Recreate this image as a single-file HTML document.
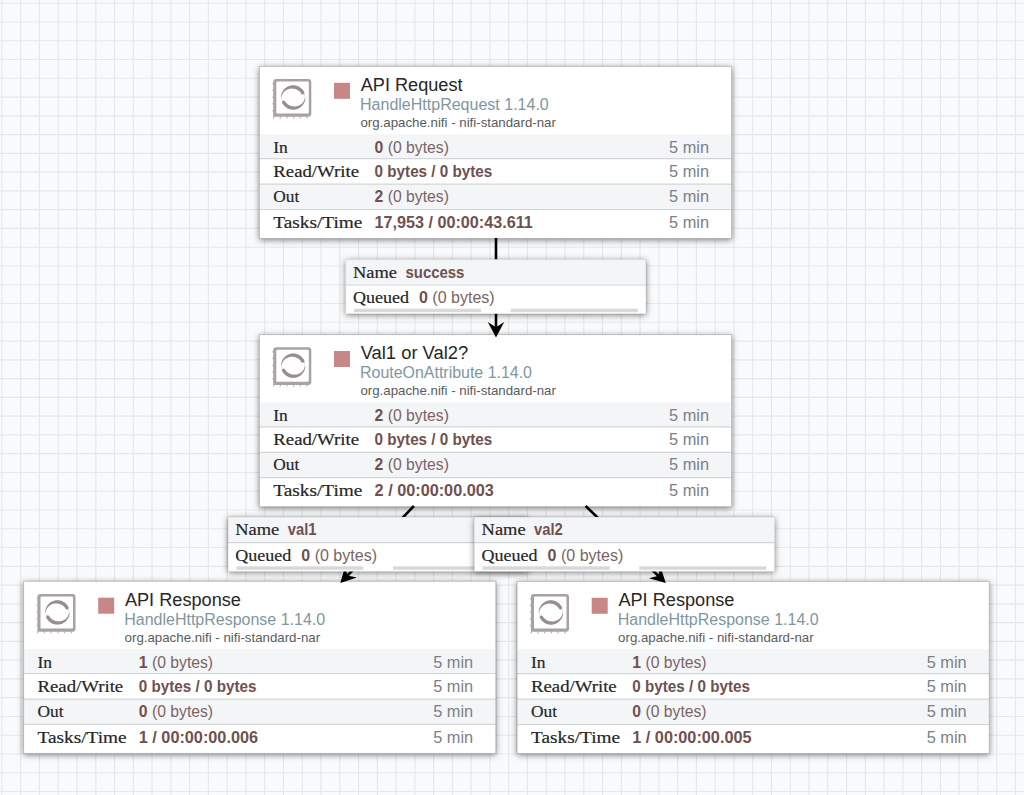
<!DOCTYPE html><html><head><meta charset="utf-8"><style>html,body{margin:0;padding:0;background:#f9fafb;}
body{width:1024px;height:795px;overflow:hidden;}
svg{display:block;}
text{font-family:"Liberation Sans",sans-serif;white-space:pre;}
.tt{font-size:18px;fill:#262626;}
.ty{font-size:15.8px;fill:#8097a1;}
.bu{font-size:13.3px;fill:#5a5a5a;}
.lb{font-family:"Liberation Serif",serif;font-size:17.7px;fill:#262626;stroke:#262626;stroke-width:0.2px;}
.vl{font-size:16px;font-weight:700;fill:#6e5150;}
.vl .nb{font-weight:400;fill:#7a6464;}
.mn{font-size:15.6px;fill:#7a8187;}
</style></head><body><svg width="1024" height="795" viewBox="0 0 1024 795">
<defs><filter id="sh" x="-5%" y="-12%" width="110%" height="124%"><feDropShadow dx="0" dy="1.5" stdDeviation="3.0" flood-color="#000" flood-opacity="0.5"/></filter><filter id="sh2" x="-6%" y="-30%" width="112%" height="160%"><feDropShadow dx="0" dy="1.2" stdDeviation="3.0" flood-color="#000" flood-opacity="0.5"/></filter></defs>
<rect width="1024" height="795" fill="#f9fafb"/>
<path d="M1.9 0V795M20.67 0V795M39.44 0V795M58.21 0V795M76.98 0V795M95.75 0V795M114.52 0V795M133.29 0V795M152.06 0V795M170.83 0V795M189.6 0V795M208.37 0V795M227.14 0V795M245.91 0V795M264.68 0V795M283.45 0V795M302.22 0V795M320.99 0V795M339.76 0V795M358.53 0V795M377.3 0V795M396.07 0V795M414.84 0V795M433.61 0V795M452.38 0V795M471.15 0V795M489.92 0V795M508.69 0V795M527.46 0V795M546.23 0V795M565 0V795M583.77 0V795M602.54 0V795M621.31 0V795M640.08 0V795M658.85 0V795M677.62 0V795M696.39 0V795M715.16 0V795M733.93 0V795M752.7 0V795M771.47 0V795M790.24 0V795M809.01 0V795M827.78 0V795M846.55 0V795M865.32 0V795M884.09 0V795M902.86 0V795M921.63 0V795M940.4 0V795M959.17 0V795M977.94 0V795M996.71 0V795M1015.48 0V795M0 3.2H1024M0 21.97H1024M0 40.74H1024M0 59.51H1024M0 78.28H1024M0 97.05H1024M0 115.82H1024M0 134.59H1024M0 153.36H1024M0 172.13H1024M0 190.9H1024M0 209.67H1024M0 228.44H1024M0 247.21H1024M0 265.98H1024M0 284.75H1024M0 303.52H1024M0 322.29H1024M0 341.06H1024M0 359.83H1024M0 378.6H1024M0 397.37H1024M0 416.14H1024M0 434.91H1024M0 453.68H1024M0 472.45H1024M0 491.22H1024M0 509.99H1024M0 528.76H1024M0 547.53H1024M0 566.3H1024M0 585.07H1024M0 603.84H1024M0 622.61H1024M0 641.38H1024M0 660.15H1024M0 678.92H1024M0 697.69H1024M0 716.46H1024M0 735.23H1024M0 754H1024M0 772.77H1024M0 791.54H1024" stroke="#e5e7ea" stroke-width="1.15" fill="none"/>
<g transform="translate(259.4 66.4)"><rect x="0" y="0" width="472.2" height="172.1" fill="#fff" filter="url(#sh)"/><rect x="0" y="67.9" width="472.2" height="24.3" fill="#f4f5f7"/><rect x="0" y="117.8" width="472.2" height="25.3" fill="#f4f5f7"/><path d="M0 92.2H472.2M0 117.8H472.2M0 143.1H472.2" stroke="#d2d6d8" stroke-width="1.2"/><rect x="0" y="0" width="472.2" height="172.1" fill="none" stroke="rgba(0,0,0,0.22)" stroke-width="1"/><path d="M14.1 17.2h-1.3M14.1 23.9h-1.3M14.1 30.7h-1.3M14.1 37.5h-1.3M14.1 44.2h-1.3M14.5 50.1l-0.6 2.0M21.2 50.1l-0.6 2.0M27.9 50.1l-0.6 2.0M34.6 50.1l-0.6 2.0M41.3 50.1l-0.6 2.0M48 50.1l-0.6 2.0" stroke="#c0b8b8" stroke-width="1.2" fill="none"/><path d="M13.8 50.4V15.7A3.0 3.0 0 0 1 16.8 12.7H48.9A3.0 3.0 0 0 1 51.9 15.7V47.4A3.0 3.0 0 0 1 48.9 50.4ZM16.9 47.2H48.4A1.0 1.0 0 0 0 49.4 46.2V16.2A1.0 1.0 0 0 0 48.4 15.2H17.9A1.0 1.0 0 0 0 16.9 16.2Z" fill="#aaa2a2" fill-rule="evenodd"/><circle cx="33.8" cy="31.1" r="11.75" fill="none" stroke="#e4e0e0" stroke-width="0.9"/><path d="M44.86 25.94L44.49 25.22L44.07 24.52L43.61 23.85L43.1 23.21L42.56 22.61L41.97 22.04L41.35 21.52L40.69 21.03L40.01 20.6L39.29 20.21L38.55 19.86L37.79 19.57L37.01 19.33L36.22 19.14L35.42 19.01L34.61 18.93L33.79 18.9L32.98 18.93L32.17 19.01L31.37 19.14L30.58 19.33L29.8 19.58L29.04 19.87L28.3 20.21L27.59 20.6L26.9 21.04L26.24 21.52L25.62 22.05L25.04 22.61L24.49 23.22L23.98 23.86L23.52 24.53L23.11 25.23L22.74 25.95L22.42 26.7L22.15 27.47L21.94 28.26L21.77 29.05L21.66 29.86L21.61 30.67L22.01 30.69L22.2 29.92L22.44 29.17L22.72 28.45L23.06 27.75L23.43 27.09L23.84 26.47L24.3 25.88L24.79 25.34L25.32 24.84L25.87 24.39L26.45 23.98L27.04 23.62L27.65 23.3L28.27 23.03L28.87 22.78L29.49 22.57L30.12 22.41L30.74 22.29L31.37 22.22L31.99 22.19L32.6 22.2L33.2 22.23L33.8 22.24L34.38 22.29L34.97 22.39L35.54 22.52L36.1 22.68L36.64 22.89L37.17 23.12L37.68 23.4L38.18 23.69L38.69 23.96L39.18 24.27L39.65 24.61L40.1 24.99L40.53 25.39L40.93 25.83L41.3 26.29L41.65 26.78L41.96 27.3Z" fill="#978e8e"/><circle cx="43.41" cy="26.62" r="1.6" fill="#978e8e"/><path d="M22.74 36.26L23.11 36.98L23.53 37.68L23.99 38.35L24.5 38.99L25.04 39.59L25.63 40.16L26.25 40.68L26.91 41.17L27.59 41.6L28.31 41.99L29.05 42.34L29.81 42.63L30.59 42.87L31.38 43.06L32.18 43.19L32.99 43.27L33.81 43.3L34.62 43.27L35.43 43.19L36.23 43.06L37.02 42.87L37.8 42.62L38.56 42.33L39.3 41.99L40.01 41.6L40.7 41.16L41.36 40.68L41.98 40.15L42.56 39.59L43.11 38.98L43.62 38.34L44.08 37.67L44.49 36.97L44.86 36.25L45.18 35.5L45.45 34.73L45.66 33.94L45.83 33.15L45.94 32.34L45.99 31.53L45.59 31.51L45.4 32.28L45.16 33.03L44.88 33.75L44.54 34.45L44.17 35.11L43.76 35.73L43.3 36.32L42.81 36.86L42.28 37.36L41.73 37.81L41.15 38.22L40.56 38.58L39.95 38.9L39.33 39.17L38.73 39.42L38.11 39.63L37.48 39.79L36.86 39.91L36.23 39.98L35.61 40.01L35 40L34.4 39.97L33.8 39.96L33.22 39.91L32.63 39.81L32.06 39.68L31.5 39.52L30.96 39.31L30.43 39.08L29.92 38.8L29.42 38.51L28.91 38.24L28.42 37.93L27.95 37.59L27.5 37.21L27.07 36.81L26.67 36.37L26.3 35.91L25.95 35.42L25.64 34.9Z" fill="#978e8e"/><circle cx="24.19" cy="35.58" r="1.6" fill="#978e8e"/><rect x="74.6" y="16.4" width="16" height="16" fill="#c88787"/><text x="101.3" y="24.4" class="tt" textLength="101.8" lengthAdjust="spacingAndGlyphs">API Request</text><text x="100.6" y="43.8" class="ty" textLength="188.8" lengthAdjust="spacingAndGlyphs">HandleHttpRequest 1.14.0</text><text x="101" y="60.7" class="bu" textLength="195.5" lengthAdjust="spacingAndGlyphs">org.apache.nifi - nifi-standard-nar</text><text x="13.9" y="86.4" class="lb" textLength="14.5" lengthAdjust="spacingAndGlyphs">In</text><text x="115.2" y="86.4" class="vl" textLength="74.3" lengthAdjust="spacingAndGlyphs">0<tspan class="nb"> (0 bytes)</tspan></text><text x="449.6" y="86.4" class="mn" textLength="40" lengthAdjust="spacingAndGlyphs" text-anchor="end">5 min</text><text x="13.9" y="110.3" class="lb" textLength="85.7" lengthAdjust="spacingAndGlyphs">Read/Write</text><text x="115.2" y="110.3" class="vl" textLength="117.7" lengthAdjust="spacingAndGlyphs">0 bytes / 0 bytes</text><text x="449.6" y="110.3" class="mn" textLength="40" lengthAdjust="spacingAndGlyphs" text-anchor="end">5 min</text><text x="13.9" y="135.9" class="lb" textLength="26" lengthAdjust="spacingAndGlyphs">Out</text><text x="115.2" y="135.9" class="vl" textLength="74.3" lengthAdjust="spacingAndGlyphs">2<tspan class="nb"> (0 bytes)</tspan></text><text x="449.6" y="135.9" class="mn" textLength="40" lengthAdjust="spacingAndGlyphs" text-anchor="end">5 min</text><text x="13.9" y="161.3" class="lb" textLength="89.1" lengthAdjust="spacingAndGlyphs">Tasks/Time</text><text x="115.2" y="161.3" class="vl" textLength="158.2" lengthAdjust="spacingAndGlyphs">17,953 / 00:00:43.611</text><text x="449.6" y="161.3" class="mn" textLength="40" lengthAdjust="spacingAndGlyphs" text-anchor="end">5 min</text></g>
<g transform="translate(259.4 334.6)"><rect x="0" y="0" width="472.2" height="172.1" fill="#fff" filter="url(#sh)"/><rect x="0" y="67.9" width="472.2" height="24.3" fill="#f4f5f7"/><rect x="0" y="117.8" width="472.2" height="25.3" fill="#f4f5f7"/><path d="M0 92.2H472.2M0 117.8H472.2M0 143.1H472.2" stroke="#d2d6d8" stroke-width="1.2"/><rect x="0" y="0" width="472.2" height="172.1" fill="none" stroke="rgba(0,0,0,0.22)" stroke-width="1"/><path d="M14.1 17.2h-1.3M14.1 23.9h-1.3M14.1 30.7h-1.3M14.1 37.5h-1.3M14.1 44.2h-1.3M14.5 50.1l-0.6 2.0M21.2 50.1l-0.6 2.0M27.9 50.1l-0.6 2.0M34.6 50.1l-0.6 2.0M41.3 50.1l-0.6 2.0M48 50.1l-0.6 2.0" stroke="#c0b8b8" stroke-width="1.2" fill="none"/><path d="M13.8 50.4V15.7A3.0 3.0 0 0 1 16.8 12.7H48.9A3.0 3.0 0 0 1 51.9 15.7V47.4A3.0 3.0 0 0 1 48.9 50.4ZM16.9 47.2H48.4A1.0 1.0 0 0 0 49.4 46.2V16.2A1.0 1.0 0 0 0 48.4 15.2H17.9A1.0 1.0 0 0 0 16.9 16.2Z" fill="#aaa2a2" fill-rule="evenodd"/><circle cx="33.8" cy="31.1" r="11.75" fill="none" stroke="#e4e0e0" stroke-width="0.9"/><path d="M44.86 25.94L44.49 25.22L44.07 24.52L43.61 23.85L43.1 23.21L42.56 22.61L41.97 22.04L41.35 21.52L40.69 21.03L40.01 20.6L39.29 20.21L38.55 19.86L37.79 19.57L37.01 19.33L36.22 19.14L35.42 19.01L34.61 18.93L33.79 18.9L32.98 18.93L32.17 19.01L31.37 19.14L30.58 19.33L29.8 19.58L29.04 19.87L28.3 20.21L27.59 20.6L26.9 21.04L26.24 21.52L25.62 22.05L25.04 22.61L24.49 23.22L23.98 23.86L23.52 24.53L23.11 25.23L22.74 25.95L22.42 26.7L22.15 27.47L21.94 28.26L21.77 29.05L21.66 29.86L21.61 30.67L22.01 30.69L22.2 29.92L22.44 29.17L22.72 28.45L23.06 27.75L23.43 27.09L23.84 26.47L24.3 25.88L24.79 25.34L25.32 24.84L25.87 24.39L26.45 23.98L27.04 23.62L27.65 23.3L28.27 23.03L28.87 22.78L29.49 22.57L30.12 22.41L30.74 22.29L31.37 22.22L31.99 22.19L32.6 22.2L33.2 22.23L33.8 22.24L34.38 22.29L34.97 22.39L35.54 22.52L36.1 22.68L36.64 22.89L37.17 23.12L37.68 23.4L38.18 23.69L38.69 23.96L39.18 24.27L39.65 24.61L40.1 24.99L40.53 25.39L40.93 25.83L41.3 26.29L41.65 26.78L41.96 27.3Z" fill="#978e8e"/><circle cx="43.41" cy="26.62" r="1.6" fill="#978e8e"/><path d="M22.74 36.26L23.11 36.98L23.53 37.68L23.99 38.35L24.5 38.99L25.04 39.59L25.63 40.16L26.25 40.68L26.91 41.17L27.59 41.6L28.31 41.99L29.05 42.34L29.81 42.63L30.59 42.87L31.38 43.06L32.18 43.19L32.99 43.27L33.81 43.3L34.62 43.27L35.43 43.19L36.23 43.06L37.02 42.87L37.8 42.62L38.56 42.33L39.3 41.99L40.01 41.6L40.7 41.16L41.36 40.68L41.98 40.15L42.56 39.59L43.11 38.98L43.62 38.34L44.08 37.67L44.49 36.97L44.86 36.25L45.18 35.5L45.45 34.73L45.66 33.94L45.83 33.15L45.94 32.34L45.99 31.53L45.59 31.51L45.4 32.28L45.16 33.03L44.88 33.75L44.54 34.45L44.17 35.11L43.76 35.73L43.3 36.32L42.81 36.86L42.28 37.36L41.73 37.81L41.15 38.22L40.56 38.58L39.95 38.9L39.33 39.17L38.73 39.42L38.11 39.63L37.48 39.79L36.86 39.91L36.23 39.98L35.61 40.01L35 40L34.4 39.97L33.8 39.96L33.22 39.91L32.63 39.81L32.06 39.68L31.5 39.52L30.96 39.31L30.43 39.08L29.92 38.8L29.42 38.51L28.91 38.24L28.42 37.93L27.95 37.59L27.5 37.21L27.07 36.81L26.67 36.37L26.3 35.91L25.95 35.42L25.64 34.9Z" fill="#978e8e"/><circle cx="24.19" cy="35.58" r="1.6" fill="#978e8e"/><rect x="74.6" y="16.4" width="16" height="16" fill="#c88787"/><text x="101.3" y="24.4" class="tt" textLength="107.5" lengthAdjust="spacingAndGlyphs">Val1 or Val2?</text><text x="100.6" y="43.8" class="ty" textLength="172" lengthAdjust="spacingAndGlyphs">RouteOnAttribute 1.14.0</text><text x="101" y="60.7" class="bu" textLength="195.5" lengthAdjust="spacingAndGlyphs">org.apache.nifi - nifi-standard-nar</text><text x="13.9" y="86.4" class="lb" textLength="14.5" lengthAdjust="spacingAndGlyphs">In</text><text x="115.2" y="86.4" class="vl" textLength="74.3" lengthAdjust="spacingAndGlyphs">2<tspan class="nb"> (0 bytes)</tspan></text><text x="449.6" y="86.4" class="mn" textLength="40" lengthAdjust="spacingAndGlyphs" text-anchor="end">5 min</text><text x="13.9" y="110.3" class="lb" textLength="85.7" lengthAdjust="spacingAndGlyphs">Read/Write</text><text x="115.2" y="110.3" class="vl" textLength="117.7" lengthAdjust="spacingAndGlyphs">0 bytes / 0 bytes</text><text x="449.6" y="110.3" class="mn" textLength="40" lengthAdjust="spacingAndGlyphs" text-anchor="end">5 min</text><text x="13.9" y="135.9" class="lb" textLength="26" lengthAdjust="spacingAndGlyphs">Out</text><text x="115.2" y="135.9" class="vl" textLength="74.3" lengthAdjust="spacingAndGlyphs">2<tspan class="nb"> (0 bytes)</tspan></text><text x="449.6" y="135.9" class="mn" textLength="40" lengthAdjust="spacingAndGlyphs" text-anchor="end">5 min</text><text x="13.9" y="161.3" class="lb" textLength="89.1" lengthAdjust="spacingAndGlyphs">Tasks/Time</text><text x="115.2" y="161.3" class="vl" textLength="119.2" lengthAdjust="spacingAndGlyphs">2 / 00:00:00.003</text><text x="449.6" y="161.3" class="mn" textLength="40" lengthAdjust="spacingAndGlyphs" text-anchor="end">5 min</text></g>
<g transform="translate(23.6 581.3)"><rect x="0" y="0" width="472.2" height="172.1" fill="#fff" filter="url(#sh)"/><rect x="0" y="67.9" width="472.2" height="24.3" fill="#f4f5f7"/><rect x="0" y="117.8" width="472.2" height="25.3" fill="#f4f5f7"/><path d="M0 92.2H472.2M0 117.8H472.2M0 143.1H472.2" stroke="#d2d6d8" stroke-width="1.2"/><rect x="0" y="0" width="472.2" height="172.1" fill="none" stroke="rgba(0,0,0,0.22)" stroke-width="1"/><path d="M14.1 17.2h-1.3M14.1 23.9h-1.3M14.1 30.7h-1.3M14.1 37.5h-1.3M14.1 44.2h-1.3M14.5 50.1l-0.6 2.0M21.2 50.1l-0.6 2.0M27.9 50.1l-0.6 2.0M34.6 50.1l-0.6 2.0M41.3 50.1l-0.6 2.0M48 50.1l-0.6 2.0" stroke="#c0b8b8" stroke-width="1.2" fill="none"/><path d="M13.8 50.4V15.7A3.0 3.0 0 0 1 16.8 12.7H48.9A3.0 3.0 0 0 1 51.9 15.7V47.4A3.0 3.0 0 0 1 48.9 50.4ZM16.9 47.2H48.4A1.0 1.0 0 0 0 49.4 46.2V16.2A1.0 1.0 0 0 0 48.4 15.2H17.9A1.0 1.0 0 0 0 16.9 16.2Z" fill="#aaa2a2" fill-rule="evenodd"/><circle cx="33.8" cy="31.1" r="11.75" fill="none" stroke="#e4e0e0" stroke-width="0.9"/><path d="M44.86 25.94L44.49 25.22L44.07 24.52L43.61 23.85L43.1 23.21L42.56 22.61L41.97 22.04L41.35 21.52L40.69 21.03L40.01 20.6L39.29 20.21L38.55 19.86L37.79 19.57L37.01 19.33L36.22 19.14L35.42 19.01L34.61 18.93L33.79 18.9L32.98 18.93L32.17 19.01L31.37 19.14L30.58 19.33L29.8 19.58L29.04 19.87L28.3 20.21L27.59 20.6L26.9 21.04L26.24 21.52L25.62 22.05L25.04 22.61L24.49 23.22L23.98 23.86L23.52 24.53L23.11 25.23L22.74 25.95L22.42 26.7L22.15 27.47L21.94 28.26L21.77 29.05L21.66 29.86L21.61 30.67L22.01 30.69L22.2 29.92L22.44 29.17L22.72 28.45L23.06 27.75L23.43 27.09L23.84 26.47L24.3 25.88L24.79 25.34L25.32 24.84L25.87 24.39L26.45 23.98L27.04 23.62L27.65 23.3L28.27 23.03L28.87 22.78L29.49 22.57L30.12 22.41L30.74 22.29L31.37 22.22L31.99 22.19L32.6 22.2L33.2 22.23L33.8 22.24L34.38 22.29L34.97 22.39L35.54 22.52L36.1 22.68L36.64 22.89L37.17 23.12L37.68 23.4L38.18 23.69L38.69 23.96L39.18 24.27L39.65 24.61L40.1 24.99L40.53 25.39L40.93 25.83L41.3 26.29L41.65 26.78L41.96 27.3Z" fill="#978e8e"/><circle cx="43.41" cy="26.62" r="1.6" fill="#978e8e"/><path d="M22.74 36.26L23.11 36.98L23.53 37.68L23.99 38.35L24.5 38.99L25.04 39.59L25.63 40.16L26.25 40.68L26.91 41.17L27.59 41.6L28.31 41.99L29.05 42.34L29.81 42.63L30.59 42.87L31.38 43.06L32.18 43.19L32.99 43.27L33.81 43.3L34.62 43.27L35.43 43.19L36.23 43.06L37.02 42.87L37.8 42.62L38.56 42.33L39.3 41.99L40.01 41.6L40.7 41.16L41.36 40.68L41.98 40.15L42.56 39.59L43.11 38.98L43.62 38.34L44.08 37.67L44.49 36.97L44.86 36.25L45.18 35.5L45.45 34.73L45.66 33.94L45.83 33.15L45.94 32.34L45.99 31.53L45.59 31.51L45.4 32.28L45.16 33.03L44.88 33.75L44.54 34.45L44.17 35.11L43.76 35.73L43.3 36.32L42.81 36.86L42.28 37.36L41.73 37.81L41.15 38.22L40.56 38.58L39.95 38.9L39.33 39.17L38.73 39.42L38.11 39.63L37.48 39.79L36.86 39.91L36.23 39.98L35.61 40.01L35 40L34.4 39.97L33.8 39.96L33.22 39.91L32.63 39.81L32.06 39.68L31.5 39.52L30.96 39.31L30.43 39.08L29.92 38.8L29.42 38.51L28.91 38.24L28.42 37.93L27.95 37.59L27.5 37.21L27.07 36.81L26.67 36.37L26.3 35.91L25.95 35.42L25.64 34.9Z" fill="#978e8e"/><circle cx="24.19" cy="35.58" r="1.6" fill="#978e8e"/><rect x="74.6" y="16.4" width="16" height="16" fill="#c88787"/><text x="101.3" y="24.4" class="tt" textLength="116" lengthAdjust="spacingAndGlyphs">API Response</text><text x="100.6" y="43.8" class="ty" textLength="201" lengthAdjust="spacingAndGlyphs">HandleHttpResponse 1.14.0</text><text x="101" y="60.7" class="bu" textLength="195.5" lengthAdjust="spacingAndGlyphs">org.apache.nifi - nifi-standard-nar</text><text x="13.9" y="86.4" class="lb" textLength="14.5" lengthAdjust="spacingAndGlyphs">In</text><text x="115.2" y="86.4" class="vl" textLength="74.3" lengthAdjust="spacingAndGlyphs">1<tspan class="nb"> (0 bytes)</tspan></text><text x="449.6" y="86.4" class="mn" textLength="40" lengthAdjust="spacingAndGlyphs" text-anchor="end">5 min</text><text x="13.9" y="110.3" class="lb" textLength="85.7" lengthAdjust="spacingAndGlyphs">Read/Write</text><text x="115.2" y="110.3" class="vl" textLength="117.7" lengthAdjust="spacingAndGlyphs">0 bytes / 0 bytes</text><text x="449.6" y="110.3" class="mn" textLength="40" lengthAdjust="spacingAndGlyphs" text-anchor="end">5 min</text><text x="13.9" y="135.9" class="lb" textLength="26" lengthAdjust="spacingAndGlyphs">Out</text><text x="115.2" y="135.9" class="vl" textLength="74.3" lengthAdjust="spacingAndGlyphs">0<tspan class="nb"> (0 bytes)</tspan></text><text x="449.6" y="135.9" class="mn" textLength="40" lengthAdjust="spacingAndGlyphs" text-anchor="end">5 min</text><text x="13.9" y="161.3" class="lb" textLength="89.1" lengthAdjust="spacingAndGlyphs">Tasks/Time</text><text x="115.2" y="161.3" class="vl" textLength="119.2" lengthAdjust="spacingAndGlyphs">1 / 00:00:00.006</text><text x="449.6" y="161.3" class="mn" textLength="40" lengthAdjust="spacingAndGlyphs" text-anchor="end">5 min</text></g>
<g transform="translate(517.1 581.4)"><rect x="0" y="0" width="472.2" height="172.1" fill="#fff" filter="url(#sh)"/><rect x="0" y="67.9" width="472.2" height="24.3" fill="#f4f5f7"/><rect x="0" y="117.8" width="472.2" height="25.3" fill="#f4f5f7"/><path d="M0 92.2H472.2M0 117.8H472.2M0 143.1H472.2" stroke="#d2d6d8" stroke-width="1.2"/><rect x="0" y="0" width="472.2" height="172.1" fill="none" stroke="rgba(0,0,0,0.22)" stroke-width="1"/><path d="M14.1 17.2h-1.3M14.1 23.9h-1.3M14.1 30.7h-1.3M14.1 37.5h-1.3M14.1 44.2h-1.3M14.5 50.1l-0.6 2.0M21.2 50.1l-0.6 2.0M27.9 50.1l-0.6 2.0M34.6 50.1l-0.6 2.0M41.3 50.1l-0.6 2.0M48 50.1l-0.6 2.0" stroke="#c0b8b8" stroke-width="1.2" fill="none"/><path d="M13.8 50.4V15.7A3.0 3.0 0 0 1 16.8 12.7H48.9A3.0 3.0 0 0 1 51.9 15.7V47.4A3.0 3.0 0 0 1 48.9 50.4ZM16.9 47.2H48.4A1.0 1.0 0 0 0 49.4 46.2V16.2A1.0 1.0 0 0 0 48.4 15.2H17.9A1.0 1.0 0 0 0 16.9 16.2Z" fill="#aaa2a2" fill-rule="evenodd"/><circle cx="33.8" cy="31.1" r="11.75" fill="none" stroke="#e4e0e0" stroke-width="0.9"/><path d="M44.86 25.94L44.49 25.22L44.07 24.52L43.61 23.85L43.1 23.21L42.56 22.61L41.97 22.04L41.35 21.52L40.69 21.03L40.01 20.6L39.29 20.21L38.55 19.86L37.79 19.57L37.01 19.33L36.22 19.14L35.42 19.01L34.61 18.93L33.79 18.9L32.98 18.93L32.17 19.01L31.37 19.14L30.58 19.33L29.8 19.58L29.04 19.87L28.3 20.21L27.59 20.6L26.9 21.04L26.24 21.52L25.62 22.05L25.04 22.61L24.49 23.22L23.98 23.86L23.52 24.53L23.11 25.23L22.74 25.95L22.42 26.7L22.15 27.47L21.94 28.26L21.77 29.05L21.66 29.86L21.61 30.67L22.01 30.69L22.2 29.92L22.44 29.17L22.72 28.45L23.06 27.75L23.43 27.09L23.84 26.47L24.3 25.88L24.79 25.34L25.32 24.84L25.87 24.39L26.45 23.98L27.04 23.62L27.65 23.3L28.27 23.03L28.87 22.78L29.49 22.57L30.12 22.41L30.74 22.29L31.37 22.22L31.99 22.19L32.6 22.2L33.2 22.23L33.8 22.24L34.38 22.29L34.97 22.39L35.54 22.52L36.1 22.68L36.64 22.89L37.17 23.12L37.68 23.4L38.18 23.69L38.69 23.96L39.18 24.27L39.65 24.61L40.1 24.99L40.53 25.39L40.93 25.83L41.3 26.29L41.65 26.78L41.96 27.3Z" fill="#978e8e"/><circle cx="43.41" cy="26.62" r="1.6" fill="#978e8e"/><path d="M22.74 36.26L23.11 36.98L23.53 37.68L23.99 38.35L24.5 38.99L25.04 39.59L25.63 40.16L26.25 40.68L26.91 41.17L27.59 41.6L28.31 41.99L29.05 42.34L29.81 42.63L30.59 42.87L31.38 43.06L32.18 43.19L32.99 43.27L33.81 43.3L34.62 43.27L35.43 43.19L36.23 43.06L37.02 42.87L37.8 42.62L38.56 42.33L39.3 41.99L40.01 41.6L40.7 41.16L41.36 40.68L41.98 40.15L42.56 39.59L43.11 38.98L43.62 38.34L44.08 37.67L44.49 36.97L44.86 36.25L45.18 35.5L45.45 34.73L45.66 33.94L45.83 33.15L45.94 32.34L45.99 31.53L45.59 31.51L45.4 32.28L45.16 33.03L44.88 33.75L44.54 34.45L44.17 35.11L43.76 35.73L43.3 36.32L42.81 36.86L42.28 37.36L41.73 37.81L41.15 38.22L40.56 38.58L39.95 38.9L39.33 39.17L38.73 39.42L38.11 39.63L37.48 39.79L36.86 39.91L36.23 39.98L35.61 40.01L35 40L34.4 39.97L33.8 39.96L33.22 39.91L32.63 39.81L32.06 39.68L31.5 39.52L30.96 39.31L30.43 39.08L29.92 38.8L29.42 38.51L28.91 38.24L28.42 37.93L27.95 37.59L27.5 37.21L27.07 36.81L26.67 36.37L26.3 35.91L25.95 35.42L25.64 34.9Z" fill="#978e8e"/><circle cx="24.19" cy="35.58" r="1.6" fill="#978e8e"/><rect x="74.6" y="16.4" width="16" height="16" fill="#c88787"/><text x="101.3" y="24.4" class="tt" textLength="116" lengthAdjust="spacingAndGlyphs">API Response</text><text x="100.6" y="43.8" class="ty" textLength="201" lengthAdjust="spacingAndGlyphs">HandleHttpResponse 1.14.0</text><text x="101" y="60.7" class="bu" textLength="195.5" lengthAdjust="spacingAndGlyphs">org.apache.nifi - nifi-standard-nar</text><text x="13.9" y="86.4" class="lb" textLength="14.5" lengthAdjust="spacingAndGlyphs">In</text><text x="115.2" y="86.4" class="vl" textLength="74.3" lengthAdjust="spacingAndGlyphs">1<tspan class="nb"> (0 bytes)</tspan></text><text x="449.6" y="86.4" class="mn" textLength="40" lengthAdjust="spacingAndGlyphs" text-anchor="end">5 min</text><text x="13.9" y="110.3" class="lb" textLength="85.7" lengthAdjust="spacingAndGlyphs">Read/Write</text><text x="115.2" y="110.3" class="vl" textLength="117.7" lengthAdjust="spacingAndGlyphs">0 bytes / 0 bytes</text><text x="449.6" y="110.3" class="mn" textLength="40" lengthAdjust="spacingAndGlyphs" text-anchor="end">5 min</text><text x="13.9" y="135.9" class="lb" textLength="26" lengthAdjust="spacingAndGlyphs">Out</text><text x="115.2" y="135.9" class="vl" textLength="74.3" lengthAdjust="spacingAndGlyphs">0<tspan class="nb"> (0 bytes)</tspan></text><text x="449.6" y="135.9" class="mn" textLength="40" lengthAdjust="spacingAndGlyphs" text-anchor="end">5 min</text><text x="13.9" y="161.3" class="lb" textLength="89.1" lengthAdjust="spacingAndGlyphs">Tasks/Time</text><text x="115.2" y="161.3" class="vl" textLength="119.2" lengthAdjust="spacingAndGlyphs">1 / 00:00:00.005</text><text x="449.6" y="161.3" class="mn" textLength="40" lengthAdjust="spacingAndGlyphs" text-anchor="end">5 min</text></g>
<path d="M496 238V262M496 310V330" stroke="#000" stroke-width="2.6"/><polygon points="496,337.6 487.8,322.1 496,327.3 504.2,322.1" fill="#000"/><path d="M413.86 506L347.01 576" stroke="#000" stroke-width="2.6"/><polygon points="340.33,583 345.1,566.13 347.44,575.55 356.96,577.45" fill="#000"/><path d="M585.59 506L658.51 576" stroke="#000" stroke-width="2.6"/><polygon points="665.8,583 648.94,578.18 658.37,575.87 660.29,566.35" fill="#000"/>
<g transform="translate(345.7 259.5)"><rect x="0" y="0" width="300.3" height="54.3" fill="#fff" filter="url(#sh2)"/><rect x="0" y="0" width="300.3" height="25.5" fill="#f4f5f7"/><path d="M0 25.5H300.3" stroke="#d2d6d8" stroke-width="1.2"/><rect x="0" y="0" width="300.3" height="54.3" fill="none" stroke="rgba(0,0,0,0.10)" stroke-width="1"/><text x="7.3" y="18.4" class="lb" textLength="44" lengthAdjust="spacingAndGlyphs">Name</text><text x="59.8" y="18.4" class="vl" textLength="58.8" lengthAdjust="spacingAndGlyphs">success</text><text x="7.3" y="43.6" class="lb" textLength="56" lengthAdjust="spacingAndGlyphs">Queued</text><text x="73.3" y="43.6" class="vl" textLength="75.7" lengthAdjust="spacingAndGlyphs">0<tspan class="nb"> (0 bytes)</tspan></text><rect x="8.4" y="49.2" width="127" height="3.5" fill="#d9d9d9"/><rect x="164.9" y="49.2" width="127.2" height="3.5" fill="#d9d9d9"/></g>
<g transform="translate(228 517.1)"><rect x="0" y="0" width="300.3" height="54.3" fill="#fff" filter="url(#sh2)"/><rect x="0" y="0" width="300.3" height="25.5" fill="#f4f5f7"/><path d="M0 25.5H300.3" stroke="#d2d6d8" stroke-width="1.2"/><rect x="0" y="0" width="300.3" height="54.3" fill="none" stroke="rgba(0,0,0,0.10)" stroke-width="1"/><text x="7.3" y="18.4" class="lb" textLength="44" lengthAdjust="spacingAndGlyphs">Name</text><text x="59.8" y="18.4" class="vl" textLength="28.7" lengthAdjust="spacingAndGlyphs">val1</text><text x="7.3" y="43.6" class="lb" textLength="56" lengthAdjust="spacingAndGlyphs">Queued</text><text x="73.3" y="43.6" class="vl" textLength="75.7" lengthAdjust="spacingAndGlyphs">0<tspan class="nb"> (0 bytes)</tspan></text><rect x="8.4" y="49.2" width="127" height="3.5" fill="#d9d9d9"/><rect x="164.9" y="49.2" width="127.2" height="3.5" fill="#d9d9d9"/></g>
<g transform="translate(474.3 517.1)"><rect x="0" y="0" width="300.3" height="54.3" fill="#fff" filter="url(#sh2)"/><rect x="0" y="0" width="300.3" height="25.5" fill="#f4f5f7"/><path d="M0 25.5H300.3" stroke="#d2d6d8" stroke-width="1.2"/><rect x="0" y="0" width="300.3" height="54.3" fill="none" stroke="rgba(0,0,0,0.10)" stroke-width="1"/><text x="7.3" y="18.4" class="lb" textLength="44" lengthAdjust="spacingAndGlyphs">Name</text><text x="59.8" y="18.4" class="vl" textLength="28.7" lengthAdjust="spacingAndGlyphs">val2</text><text x="7.3" y="43.6" class="lb" textLength="56" lengthAdjust="spacingAndGlyphs">Queued</text><text x="73.3" y="43.6" class="vl" textLength="75.7" lengthAdjust="spacingAndGlyphs">0<tspan class="nb"> (0 bytes)</tspan></text><rect x="8.4" y="49.2" width="127" height="3.5" fill="#d9d9d9"/><rect x="164.9" y="49.2" width="127.2" height="3.5" fill="#d9d9d9"/></g>
</svg></body></html>
